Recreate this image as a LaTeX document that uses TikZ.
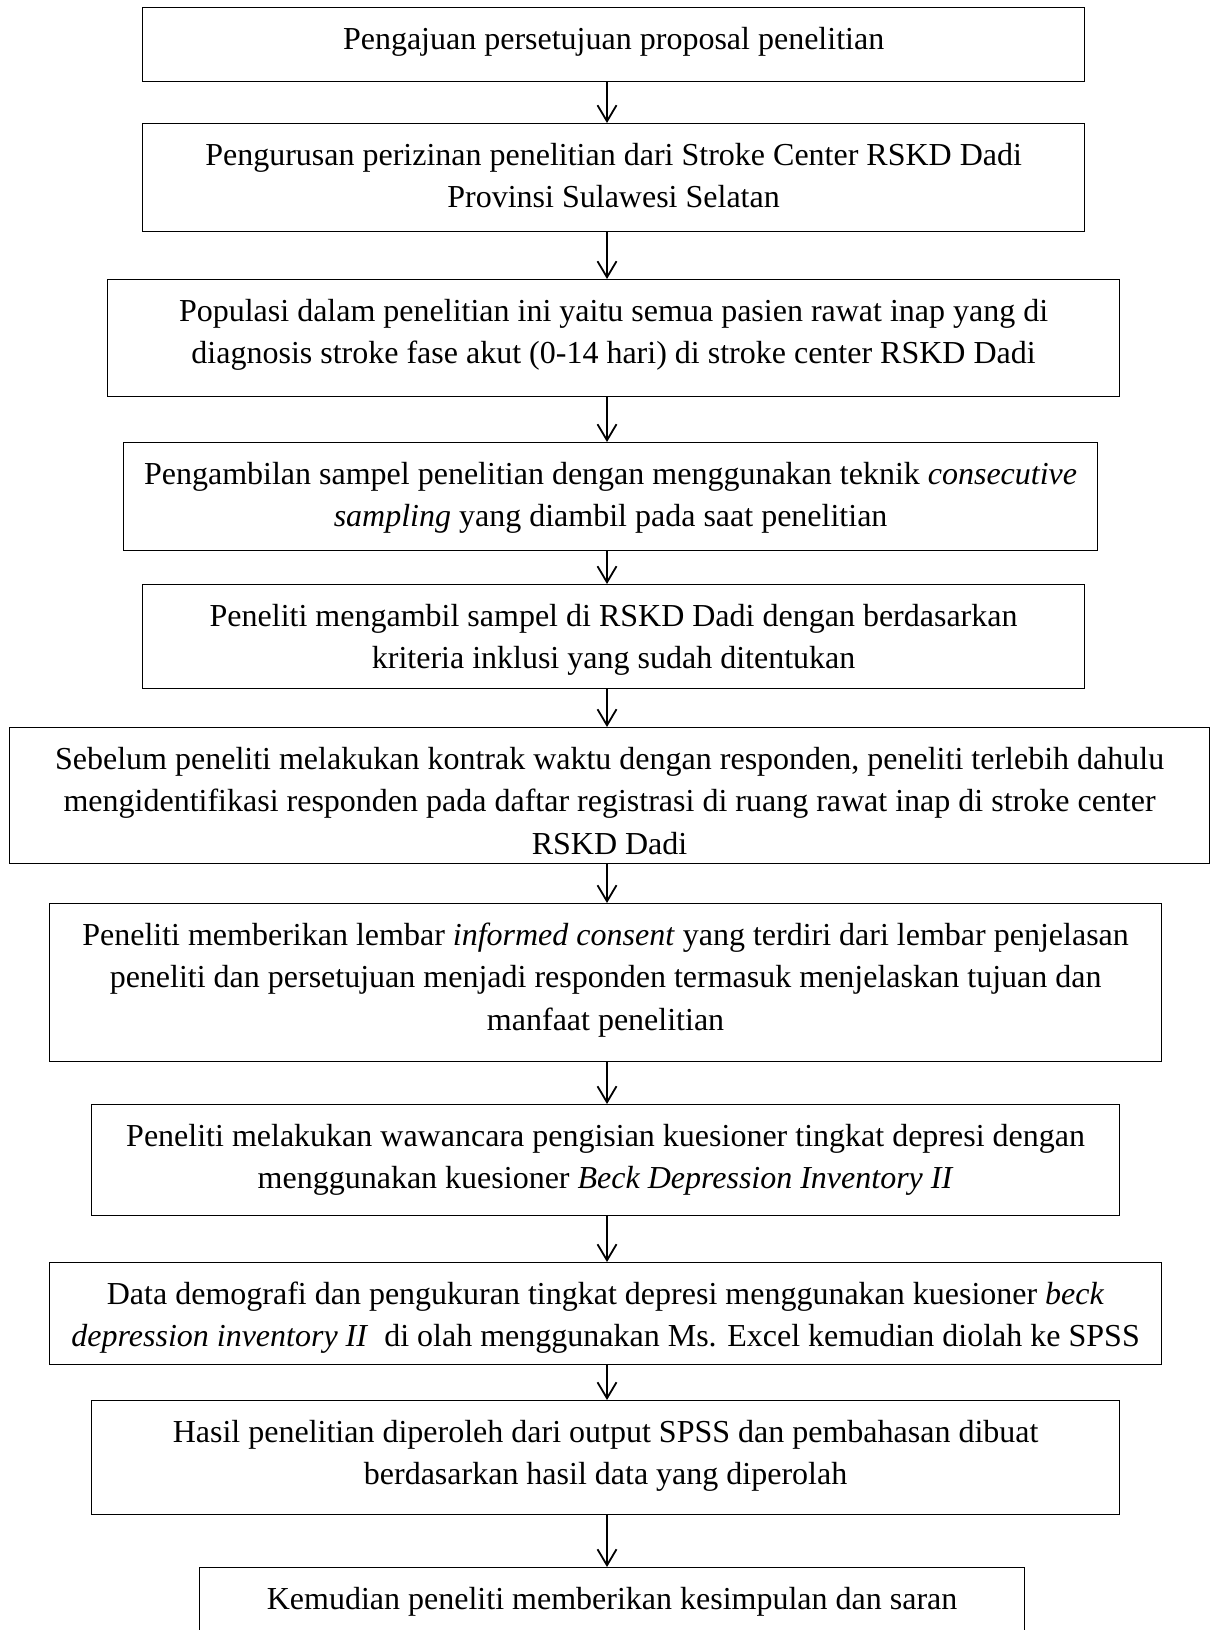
\documentclass[tikz,border=0pt]{standalone}
\usepackage{fontspec}
\setmainfont{Liberation Serif}
\usetikzlibrary{arrows.meta}
\tikzset{
  box/.style={draw, line width=1.2pt, inner sep=0pt, anchor=north west},
  arr/.style={-{Straight Barb[length=16pt,width=19pt]}, line width=1.8pt}
}
\newcommand\boxtext[3]{\parbox[c][#2pt][t]{#1pt}{\centering\fontsize{32}{42.5}\selectfont\rule{0pt}{41.5pt}#3}}
\begin{document}
\begin{tikzpicture}[x=1pt,y=-1pt]
\useasboundingbox[fill=white] (0,0) rectangle (1211,1630);
\coordinate (ax) at (607,0);
\node[box] (b1) at (142,7) {\boxtext{942}{74}{Pengajuan persetujuan proposal penelitian}};
\node[box] (b2) at (142,123) {\boxtext{942}{108}{Pengurusan perizinan penelitian dari Stroke Center RSKD Dadi\\Provinsi Sulawesi Selatan}};
\node[box] (b3) at (107,279) {\boxtext{1012}{117}{Populasi dalam penelitian ini yaitu semua pasien rawat inap yang di\\diagnosis stroke fase akut (0-14 hari) di stroke center RSKD Dadi}};
\node[box] (b4) at (123,442) {\boxtext{974}{108}{Pengambilan sampel penelitian dengan menggunakan teknik \textit{consecutive}\\\textit{sampling} yang diambil pada saat penelitian}};
\node[box] (b5) at (142,584) {\boxtext{942}{104}{Peneliti mengambil sampel di RSKD Dadi dengan berdasarkan\\kriteria inklusi yang sudah ditentukan}};
\node[box] (b6) at (9,727) {\boxtext{1200}{136}{Sebelum peneliti melakukan kontrak waktu dengan responden, peneliti terlebih dahulu\\mengidentifikasi responden pada daftar registrasi di ruang rawat inap di stroke center\\RSKD Dadi}};
\node[box] (b7) at (49,903) {\boxtext{1112}{158}{Peneliti memberikan lembar \textit{informed consent} yang terdiri dari lembar penjelasan\\peneliti dan persetujuan menjadi responden termasuk menjelaskan tujuan dan\\manfaat penelitian}};
\node[box] (b8) at (91,1104) {\boxtext{1028}{111}{Peneliti melakukan wawancara pengisian kuesioner tingkat depresi dengan\\menggunakan kuesioner \textit{Beck Depression Inventory II}}};
\node[box] (b9) at (49,1262) {\boxtext{1112}{102}{Data demografi dan pengukuran tingkat depresi menggunakan kuesioner \textit{beck}\\\textit{depression inventory II}\ \ di olah menggunakan Ms. Excel kemudian diolah ke SPSS}};
\node[box] (b10) at (91,1400) {\boxtext{1028}{114}{Hasil penelitian diperoleh dari output SPSS dan pembahasan dibuat\\berdasarkan hasil data yang diperolah}};
\node[box] (b11) at (199,1567) {\boxtext{825}{90}{Kemudian peneliti memberikan kesimpulan dan saran}};
\draw[arr] (b1.south -| ax) -- (b2.north -| ax);
\draw[arr] (b2.south -| ax) -- (b3.north -| ax);
\draw[arr] (b3.south -| ax) -- (b4.north -| ax);
\draw[arr] (b4.south -| ax) -- (b5.north -| ax);
\draw[arr] (b5.south -| ax) -- (b6.north -| ax);
\draw[arr] (b6.south -| ax) -- (b7.north -| ax);
\draw[arr] (b7.south -| ax) -- (b8.north -| ax);
\draw[arr] (b8.south -| ax) -- (b9.north -| ax);
\draw[arr] (b9.south -| ax) -- (b10.north -| ax);
\draw[arr] (b10.south -| ax) -- (b11.north -| ax);
\end{tikzpicture}
\end{document}
